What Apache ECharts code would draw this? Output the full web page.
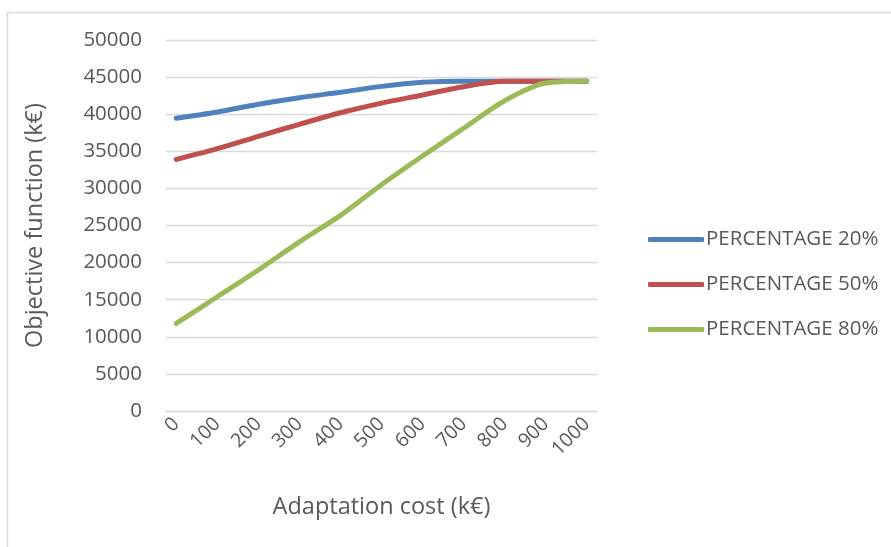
<!DOCTYPE html>
<html>
<head>
<meta charset="utf-8">
<script src="https://cdn.jsdelivr.net/npm/echarts@6/dist/echarts.min.js"></script>
<style>
  html, body { margin: 0; padding: 0; background: #ffffff; }
  #chart { width: 891px; height: 547px; }
</style>
</head>
<body>
<div id="chart"></div>
<script>
// Category slots along the cost axis (every 50 k€, labels every 100 k€)
const costSlots = ['0','50','100','150','200','250','300','350','400','450','500',
                   '550','600','650','700','750','800','850','900','950','1000'];
// Adaptation costs where the objective was evaluated
const costs = ['0','100','200','300','400','500','600','700','800','900','1000'];

const seriesNames = ['PERCENTAGE 20%', 'PERCENTAGE 50%', 'PERCENTAGE 80%'];
const pct20 = [39450, 40300, 41350, 42230, 42950, 43750, 44300, 44450, 44450, 44450, 44450];
const pct50 = [33900, 35350, 37020, 38640, 40190, 41500, 42590, 43710, 44430, 44450, 44450];
const pct80 = [11800, 15400, 19000, 22800, 26370, 30500, 34370, 38100, 41820, 44200, 44450];

const colors = ['#4F81BD', '#C0504D', '#9BBB59'];
const textColor = '#595959';
const fontFamily = '"Open Sans", "Noto Sans", sans-serif';

function pairs(values) {
  return costs.map((c, i) => [c, values[i]]);
}

const chart = echarts.init(document.getElementById('chart'), null, { renderer: 'canvas' });

chart.setOption({
  animation: false,
  backgroundColor: '#ffffff',
  textStyle: { fontFamily: fontFamily, color: textColor },
  graphic: [{
    type: 'rect',
    left: 5, top: 10,
    shape: { width: 900, height: 560 },
    style: { fill: 'none', stroke: '#D9D9D9', lineWidth: 1.5 },
    silent: true, z: -1
  }],
  grid: { left: 166, right: 294, top: 40, bottom: 136, containLabel: false },
  legend: {
    orient: 'vertical',
    left: 643, top: 224,
    icon: 'roundRect',
    itemWidth: 56, itemHeight: 5,
    itemGap: 24,
    textStyle: { fontFamily: fontFamily, fontSize: 20.5, color: textColor, padding: [0, 0, 0, -3] },
    data: seriesNames
  },
  xAxis: {
    type: 'category',
    data: costSlots,
    boundaryGap: true,
    name: 'Adaptation cost (k€)',
    nameLocation: 'middle',
    nameGap: 84,
    nameTextStyle: { fontFamily: fontFamily, fontSize: 23.5, color: textColor },
    axisLine: { show: true, lineStyle: { color: '#D9D9D9', width: 1.3 } },
    axisTick: { show: false },
    axisLabel: {
      interval: 1,
      rotate: 45,
      margin: 10,
      fontFamily: fontFamily, fontSize: 19.5, color: textColor
    },
    splitLine: { show: false }
  },
  yAxis: {
    type: 'value',
    min: 0, max: 50000, interval: 5000,
    name: 'Objective function (k€)',
    nameLocation: 'middle',
    nameGap: 119,
    nameTextStyle: { fontFamily: fontFamily, fontSize: 23.5, color: textColor },
    axisLine: { show: false },
    axisTick: { show: false },
    axisLabel: {
      margin: 24,
      fontFamily: fontFamily, fontSize: 20.5, color: textColor,
      formatter: (v) => String(v)
    },
    splitLine: { lineStyle: { color: '#D9D9D9', width: 1.3 } }
  },
  series: [pct20, pct50, pct80].map((vals, i) => ({
    name: seriesNames[i],
    type: 'line',
    data: pairs(vals),
    smooth: 0.3,
    showSymbol: false,
    symbol: 'none',
    lineStyle: { color: colors[i], width: 5, cap: 'round', join: 'round' },
    itemStyle: { color: colors[i] }
  }))
});
</script>
</body>
</html>
